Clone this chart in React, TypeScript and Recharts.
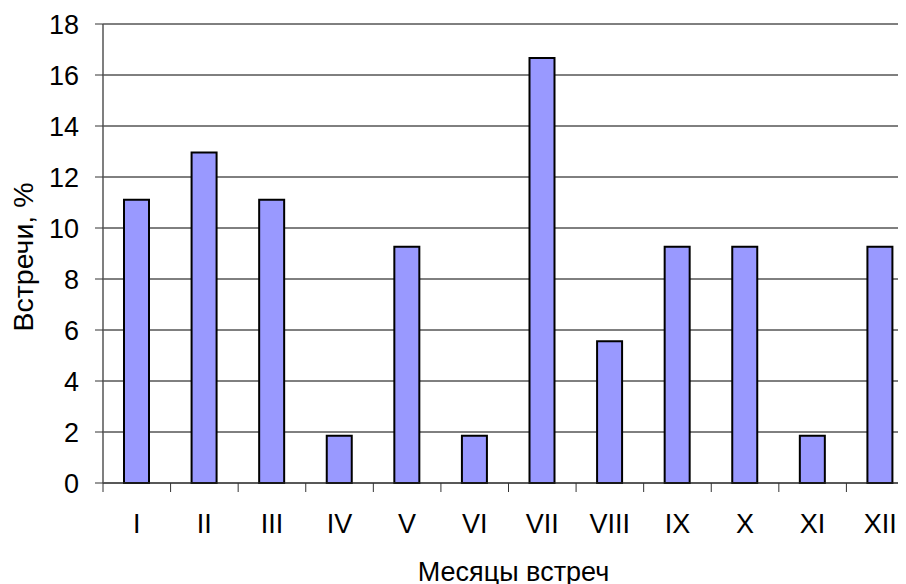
import React from 'react';
import { BarChart, Bar, XAxis, YAxis, CartesianGrid, Label } from 'recharts';

const months = ['I', 'II', 'III', 'IV', 'V', 'VI', 'VII', 'VIII', 'IX', 'X', 'XI', 'XII'];
const meetings = [11.11, 12.96, 11.11, 1.85, 9.26, 1.85, 16.67, 5.56, 9.26, 9.26, 1.85, 9.26];
const yTicks = [0, 2, 4, 6, 8, 10, 12, 14, 16, 18];
const xTitle = 'Месяцы встреч';
const yTitle = 'Встречи, %';

const data = months.map((m, i) => ({ month: m, value: meetings[i] }));

const FONT = '"Liberation Sans", Arial, sans-serif';

const XTick = (props: any) => {
  const { x, y, payload } = props;
  const off = payload && typeof payload.offset === 'number' ? payload.offset : 0;
  return (
    <g>
      <line x1={x - off} x2={x - off} y1={y} y2={y + 9} stroke="#333" strokeWidth={1} />
      <text x={x} y={y + 50} textAnchor="middle" fontSize={27} fontFamily={FONT} fill="#000">
        {payload.value}
      </text>
    </g>
  );
};

export default function App() {
  return (
    <div style={{ width: 898, height: 576, overflow: 'hidden' }}>
      <BarChart
        width={906}
        height={576}
        data={data}
        margin={{ top: 16, right: 0, bottom: 0, left: 0 }}
        barSize={25}
      >
        <CartesianGrid vertical={false} stroke="#000" strokeWidth={1} />
        <XAxis
          dataKey="month"
          height={101}
          tickLine={false}
          tickSize={0}
          tickMargin={0}
          axisLine={{ stroke: '#333', strokeWidth: 1 }}
          tick={<XTick />}
          interval={0}
        >
          <Label
            content={(p: any) => {
              const vb = p.viewBox || {};
              return (
                <text x={vb.x + vb.width / 2 + 5} y={vb.y + 97.7} textAnchor="middle" fontSize={27} fontFamily={FONT} fill="#000">
                  {xTitle}
                </text>
              );
            }}
          />
        </XAxis>
        <YAxis
          width={95}
          domain={[0, 18]}
          ticks={yTicks}
          interval={0}
          tickSize={8}
          tickMargin={16}
          tickLine={{ stroke: '#333' }}
          axisLine={{ stroke: '#555', strokeWidth: 1.5 }}
          tick={{ fontSize: 27, fontFamily: FONT, fill: '#000' }}
        >
          <Label
            content={() => (
              <text x={25} y={249} transform="rotate(-90 25 249)" textAnchor="middle" fontSize={28.5} fontFamily={FONT} fill="#000">
                {yTitle}
              </text>
            )}
          />
        </YAxis>
        <Bar dataKey="value" fill="#9999FF" stroke="#000" strokeWidth={2} isAnimationActive={false} />
      </BarChart>
    </div>
  );
}
